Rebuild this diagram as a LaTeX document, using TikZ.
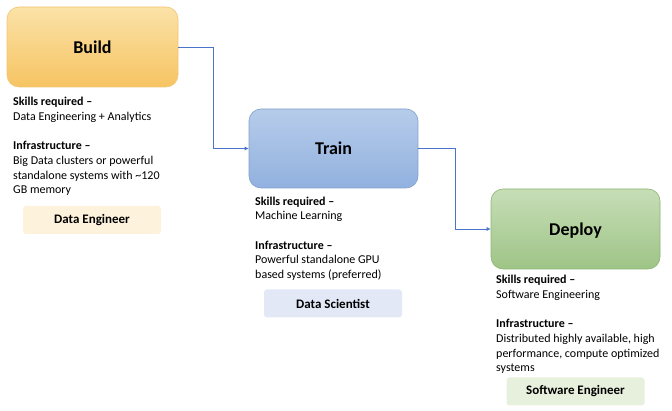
\documentclass[tikz,border=0pt]{standalone}
\usepackage{fontspec}
\setmainfont{Carlito}
\usetikzlibrary{arrows.meta}
\begin{document}
\begin{tikzpicture}[x=1pt,y=-1pt,
  stage/.style={line width=0.6pt, rounded corners=12pt, minimum height=80pt, inner sep=0pt, text height=13pt, text depth=0pt, font=\fontsize{18}{20}\selectfont\bfseries},
  role/.style={rounded corners=3pt, minimum width=138pt, minimum height=28pt, font=\fontsize{13}{15}\selectfont\bfseries, inner sep=0pt},
  info/.style={anchor=north west, align=left, font=\fontsize{12}{14.7}\selectfont, inner sep=0pt},
  conn/.style={draw=cLine, line width=0.6pt, -{Latex[length=4pt,width=4pt]}}]
\useasboundingbox (0,0) rectangle (672,411);
\definecolor{bTop}{HTML}{FBE2A8}\definecolor{bBot}{HTML}{F6C462}\definecolor{bLine}{HTML}{F3C472}
\definecolor{tTop}{HTML}{B6CCEA}\definecolor{tBot}{HTML}{92B1DF}\definecolor{tLine}{HTML}{7F9FCC}
\definecolor{dTop}{HTML}{C7DEB7}\definecolor{dBot}{HTML}{9EC486}\definecolor{dLine}{HTML}{8DB571}
\definecolor{cLine}{HTML}{4A74C9}
\node[stage, draw=bLine, minimum width=171pt, top color=bTop, bottom color=bBot] (build) at (92.5,47) {Build};
\node[stage, draw=tLine, minimum width=169pt, minimum height=79pt, top color=tTop, bottom color=tBot] (train) at (333.5,148.5) {Train};
\node[stage, draw=dLine, minimum width=169pt, top color=dTop, bottom color=dBot] (deploy) at (575.5,229) {Deploy};
\draw[conn] (build.east) -- (213,47) |- (train.west);
\draw[conn] (train.east) -- (455,148.5) |- (deploy.west);
\node[info] (binfo) at (13,97) {\textbf{Skills required –}\\Data Engineering + Analytics\\[14.7pt]\textbf{Infrastructure –}\\Big Data clusters or powerful\\standalone systems with \textasciitilde120\\GB memory};
\node[info] (tinfo) at (255,196.5) {\textbf{Skills required –}\\Machine Learning\\[14.7pt]\textbf{Infrastructure –}\\Powerful standalone GPU\\based systems (preferred)};
\node[info] (dinfo) at (496,275) {\textbf{Skills required –}\\Software Engineering\\[14.7pt]\textbf{Infrastructure –}\\Distributed highly available, high\\performance, compute optimized\\systems};
\definecolor{rb}{HTML}{FDF2DC}\definecolor{rt}{HTML}{E2E8F5}\definecolor{rd}{HTML}{E7F0DD}
\node[role, fill=rb] (de) at (92,220) {Data Engineer};
\node[role, fill=rt] (ds) at (333,303.5) {Data Scientist};
\node[role, fill=rd] (se) at (575.5,391.5) {Software Engineer};
\end{tikzpicture}
\end{document}
